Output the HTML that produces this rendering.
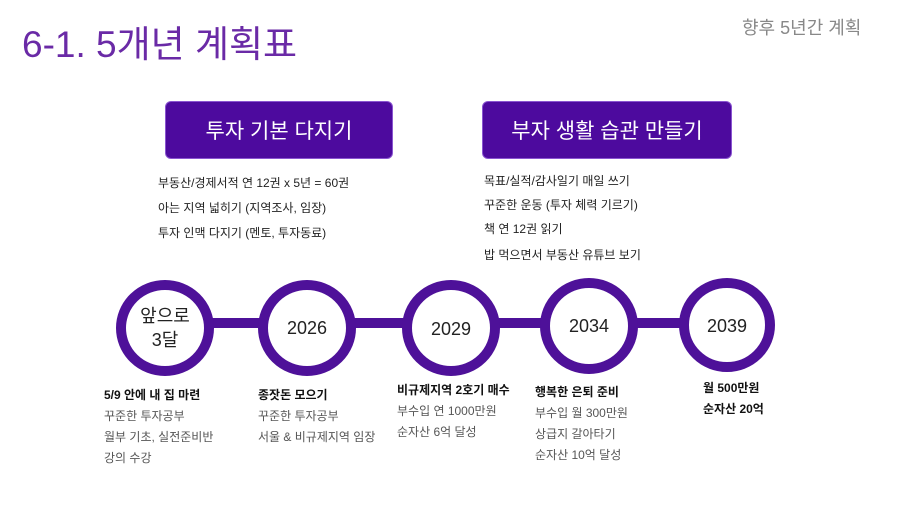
<!DOCTYPE html>
<html><head><meta charset="utf-8"><style>
body{margin:0;width:912px;height:513px;background:#fff;position:relative;overflow:hidden;font-family:"Liberation Sans","Noto Sans CJK KR",sans-serif;}
.a{position:absolute;white-space:nowrap;}
.t{font-size:12px;color:#222;}
.g{font-size:12px;color:#555;}
.b{font-size:12px;font-weight:bold;color:#111;}
.box{position:absolute;background:#4d0a9e;border:1px solid #8a55d0;border-radius:6px;color:#fff;font-size:21px;display:flex;align-items:center;justify-content:center;}
</style></head><body>
<div class="a" style="left:22px;top:14px;font-size:37px;color:#6a2aa6;">6-1. 5개년 계획표</div>
<div class="a" style="left:742px;top:14px;font-size:18px;color:#888;">향후 5년간 계획</div>
<div class="box" style="left:165px;top:101px;width:226px;height:56px;">투자 기본 다지기</div>
<div class="box" style="left:482px;top:101px;width:248px;height:56px;">부자 생활 습관 만들기</div>
<div class="a t" style="left:158px;top:174px;">부동산/경제서적 연 12권 x 5년 = 60권</div>
<div class="a t" style="left:158px;top:199px;">아는 지역 넓히기 (지역조사, 임장)</div>
<div class="a t" style="left:158px;top:224px;">투자 인맥 다지기 (멘토, 투자동료)</div>
<div class="a t" style="left:484px;top:172px;">목표/실적/감사일기 매일 쓰기</div>
<div class="a t" style="left:484px;top:196px;">꾸준한 운동 (투자 체력 기르기)</div>
<div class="a t" style="left:484px;top:220px;">책 연 12권 읽기</div>
<div class="a t" style="left:484px;top:246px;">밥 먹으면서 부동산 유튜브 보기</div>
<svg class="a" style="left:0;top:0" width="912" height="513">
<rect x="165" y="318" width="562" height="10" fill="#4e1199"/>
<g fill="#fff" stroke="#4e1199" stroke-width="10">
<ellipse cx="165" cy="328" rx="44" ry="43"/>
<ellipse cx="307" cy="328" rx="44" ry="43"/>
<ellipse cx="451" cy="328" rx="44" ry="43"/>
<ellipse cx="589" cy="326" rx="44" ry="43"/>
<ellipse cx="727" cy="325" rx="43" ry="42"/>
</g>
<g font-family="Liberation Sans, Noto Sans CJK KR, sans-serif" font-size="18" fill="#222" text-anchor="middle">
<text x="165" y="322">앞으로</text><text x="165" y="346">3달</text>
<text x="307" y="334">2026</text>
<text x="451" y="335">2029</text>
<text x="589" y="332">2034</text>
<text x="727" y="332">2039</text>
</g>
</svg>
<div class="a b" style="left:104px;top:386px;">5/9 안에 내 집 마련</div>
<div class="a g" style="left:104px;top:407px;">꾸준한 투자공부</div>
<div class="a g" style="left:104px;top:428px;">월부 기초, 실전준비반</div>
<div class="a g" style="left:104px;top:449px;">강의 수강</div>
<div class="a b" style="left:258px;top:386px;">종잣돈 모으기</div>
<div class="a g" style="left:258px;top:407px;">꾸준한 투자공부</div>
<div class="a g" style="left:258px;top:428px;">서울 &amp; 비규제지역 임장</div>
<div class="a b" style="left:397px;top:381px;">비규제지역 2호기 매수</div>
<div class="a g" style="left:397px;top:402px;">부수입 연 1000만원</div>
<div class="a g" style="left:397px;top:423px;">순자산 6억 달성</div>
<div class="a b" style="left:535px;top:383px;">행복한 은퇴 준비</div>
<div class="a g" style="left:535px;top:404px;">부수입 월 300만원</div>
<div class="a g" style="left:535px;top:425px;">상급지 갈아타기</div>
<div class="a g" style="left:535px;top:446px;">순자산 10억 달성</div>
<div class="a b" style="left:703px;top:379px;">월 500만원</div>
<div class="a b" style="left:703px;top:400px;">순자산 20억</div>
</body></html>
